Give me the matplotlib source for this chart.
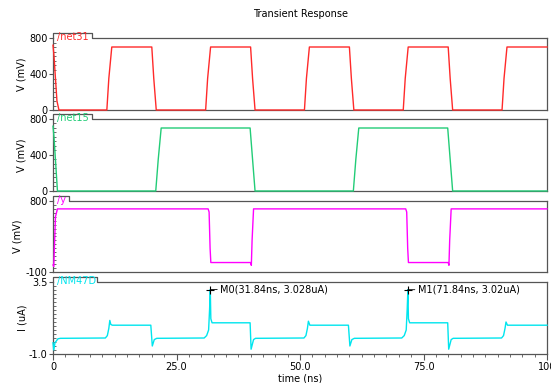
"""
plot.py
-------

Transient response of the four probed nodes, stacked strips.
"""

import matplotlib
matplotlib.use('Agg')
from matplotlib import pyplot as plt
from matplotlib.ticker import MultipleLocator, FixedLocator, FixedFormatter

# /net31 (mV)
net31_t = [0, 0.2, 0.8, 1.2, 10.9, 11.3, 11.9, 20.0, 20.4, 20.9,
           30.9, 31.3, 31.9, 40.0, 40.4, 40.9, 50.9, 51.3, 51.9, 60.0, 60.4, 60.9,
           70.9, 71.3, 71.9, 80.0, 80.4, 80.9, 90.9, 91.3, 91.9, 100]
net31_v = [720, 600, 100, 0, 0, 350, 700, 700, 350, 0,
           0, 350, 700, 700, 350, 0, 0, 350, 700, 700, 350, 0,
           0, 350, 700, 700, 350, 0, 0, 350, 700, 700]

# /net15 (mV)
net15_t = [0, 0.2, 0.9, 20.8, 21.3, 21.9, 39.9, 40.4, 40.9,
           60.8, 61.3, 61.9, 79.9, 80.4, 80.9, 100]
net15_v = [720, 600, 0, 0, 350, 700, 700, 350, 0,
           0, 350, 700, 700, 350, 0, 0]

# /y (mV)
y_t = [0, 0.15, 0.5, 0.9, 31.4, 31.6, 31.8, 31.95, 40.0, 40.15, 40.3, 40.6,
       71.4, 71.6, 71.8, 71.95, 80.0, 80.15, 80.3, 80.6, 100]
y_v = [-10, -30, 600, 700, 700, 660, 200, 20, 20, -15, 300, 700,
       700, 660, 200, 20, 20, -15, 300, 700, 700]

# /NM47D (uA)
cur_t = [0, 0.15, 0.4, 1.0, 1.5, 10.6, 11.0, 11.3, 11.5, 11.7, 12.0,
         19.8, 20.1, 20.5, 21.0, 30.6, 31.1, 31.5, 31.7, 31.84, 31.95, 32.2,
         39.9, 40.1, 40.6, 41.0, 50.8, 51.2, 51.5, 51.7, 52.0,
         59.8, 60.1, 60.5, 61.0, 70.6, 71.1, 71.5, 71.7, 71.84, 71.95, 72.2,
         79.9, 80.1, 80.6, 81.0, 90.8, 91.2, 91.5, 91.7, 92.0, 100]
cur_v = [-0.3, -0.75, -0.3, -0.05, -0.02, 0.0, 0.15, 0.6, 1.1, 0.85, 0.8,
         0.8, -0.5, -0.1, -0.02, 0.0, 0.15, 0.5, 1.8, 3.028, 1.2, 0.95,
         0.95, -0.7, -0.1, -0.02, 0.0, 0.15, 0.6, 1.05, 0.8,
         0.8, -0.5, -0.1, -0.02, 0.0, 0.15, 0.5, 1.8, 3.02, 1.2, 0.95,
         0.95, -0.7, -0.1, -0.02, 0.0, 0.15, 0.6, 1.0, 0.8, 0.8]

markers = [(31.84, 3.028, 'M0(31.84ns, 3.028uA)'),
           (71.84, 3.02, 'M1(71.84ns, 3.02uA)')]

x_ticks = [0, 25, 50, 75, 100]
x_labels = ['0', '25.0', '50.0', '75.0', '100']

FRAME = '#555555'


def setup_strip(ax, name, color, tab_w, ylim, yticks, ylabels, minor):
    """Frame one strip like the simulator viewer, with a name tab."""
    ax.set_xlim(0, 100)
    ax.set_ylim(*ylim)
    for side in ('left', 'right', 'bottom'):
        ax.spines[side].set_color(FRAME)
        ax.spines[side].set_linewidth(0.9)
    ax.spines['top'].set_visible(False)

    # the name tab sticking out of the top edge
    h = 0.075
    ax.plot([0, 0, tab_w, tab_w, 1], [1, 1 + h, 1 + h, 1, 1],
            transform=ax.transAxes, color=FRAME, lw=0.9, clip_on=False)
    ax.text(0.008, 1 + h / 2 - 0.02, name, transform=ax.transAxes,
            color=color, fontsize=7, va='center', ha='left')

    ax.yaxis.set_major_locator(FixedLocator(yticks))
    ax.yaxis.set_major_formatter(FixedFormatter(ylabels))
    ax.yaxis.set_minor_locator(MultipleLocator(minor))
    ax.tick_params(axis='y', which='major', direction='out', length=3,
                   width=0.8, color=FRAME, labelsize=7, pad=1)
    ax.tick_params(axis='y', which='minor', direction='in', length=2,
                   width=0.6, color=FRAME)
    ax.tick_params(axis='x', which='both', bottom=False, labelbottom=False)


fig = plt.figure(figsize=(5.51, 3.83), dpi=100)
left, width = 53 / 551, 494 / 551

ax1 = fig.add_axes([left, 1 - 110 / 383, width, 72 / 383])
ax2 = fig.add_axes([left, 1 - 191 / 383, width, 72 / 383])
ax3 = fig.add_axes([left, 1 - 272 / 383, width, 71 / 383])
ax4 = fig.add_axes([left, 1 - 354 / 383, width, 72 / 383])

ax1.plot(net31_t, net31_v, color='#ff2a2a', lw=1.0, clip_on=False, zorder=3)
setup_strip(ax1, '/net31', '#ff2a2a', 39 / 494, (0, 800),
            [0, 400, 800], ['0', '400', '800'], 50)
ax1.set_ylabel('V (mV)', fontsize=7, labelpad=2)

ax2.plot(net15_t, net15_v, color='#22cc77', lw=1.0, clip_on=False, zorder=3)
setup_strip(ax2, '/net15', '#22cc77', 39 / 494, (0, 800),
            [0, 400, 800], ['0', '400', '800'], 50)
ax2.set_ylabel('V (mV)', fontsize=7, labelpad=2)

ax3.plot(y_t, y_v, color='#ff00ff', lw=1.0, clip_on=False, zorder=3)
setup_strip(ax3, '/y', '#ff00ff', 16 / 494, (-100, 800),
            [-100, 800], ['-100', '800'], 50)
ax3.set_ylabel('V (mV)', fontsize=7, labelpad=2)

ax4.plot(cur_t, cur_v, color='#00e5ee', lw=1.0, clip_on=False, zorder=3)
setup_strip(ax4, '/NM47D', '#00e5ee', 44 / 494, (-1.0, 3.5),
            [-1.0, 3.5], ['-1.0', '3.5'], 0.25)
ax4.set_ylabel('I (uA)', fontsize=7, labelpad=1)

# markers on the current spikes
for mt, mv, label in markers:
    ax4.plot([mt], [mv], marker='+', color='black', ms=6, mew=0.8,
             zorder=5, clip_on=False)
    ax4.annotate(label, xy=(mt, mv), xytext=(7, 0), textcoords='offset points',
                 fontsize=7, va='center', ha='left', color='black',
                 arrowprops=dict(arrowstyle='-', color='black', lw=0.6,
                                 shrinkA=0, shrinkB=0))

ax4.xaxis.set_major_locator(FixedLocator(x_ticks))
ax4.xaxis.set_major_formatter(FixedFormatter(x_labels))
ax4.xaxis.set_minor_locator(MultipleLocator(2.5))
ax4.tick_params(axis='x', which='major', bottom=True, labelbottom=True,
                direction='out', length=4, width=0.8, color=FRAME,
                labelsize=7, pad=2)
ax4.tick_params(axis='x', which='minor', bottom=True, direction='out',
                length=2, width=0.6, color=FRAME)
ax4.set_xlabel('time (ns)', fontsize=7, labelpad=1)

fig.text(0.545, 1 - 14 / 383, 'Transient Response', fontsize=7,
         ha='center', va='center')

plt.savefig('out.png', dpi=100)
